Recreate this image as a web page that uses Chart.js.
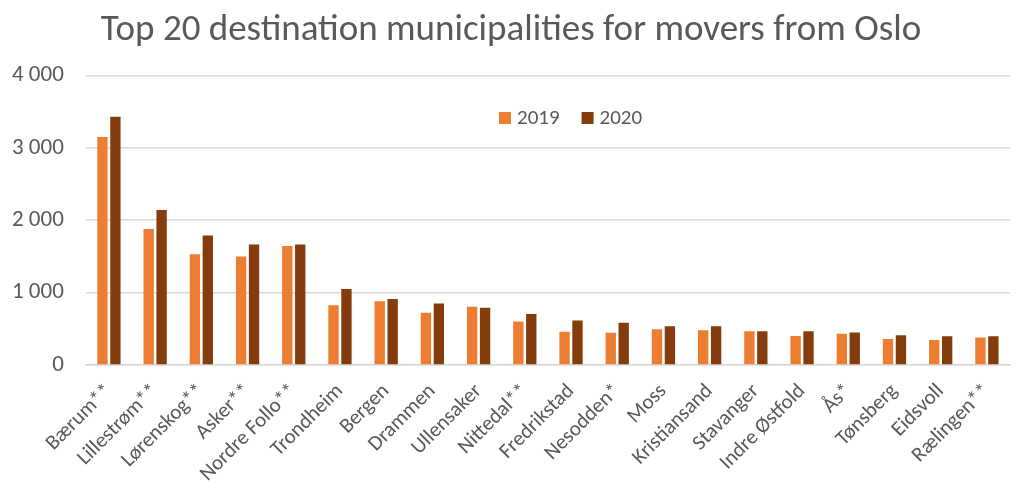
<!DOCTYPE html>
<html>
<head>
<meta charset="utf-8">
<script src="https://cdn.jsdelivr.net/npm/chart.js@4/dist/chart.umd.min.js"></script>
<style>
  html, body { margin: 0; padding: 0; background: #fff; }
  #wrap { width: 1018px; height: 498px; position: relative; }
</style>
</head>
<body>
<div id="wrap"><canvas id="chartCanvas"></canvas></div>
<script>
// data
const municipalities = ['Bærum**', 'Lillestrøm**', 'Lørenskog**', 'Asker**', 'Nordre Follo**',
  'Trondheim', 'Bergen', 'Drammen', 'Ullensaker', 'Nittedal**', 'Fredrikstad', 'Nesodden*',
  'Moss', 'Kristiansand', 'Stavanger', 'Indre Østfold', 'Ås*', 'Tønsberg', 'Eidsvoll', 'Rælingen**'];
const movers2019 = [3150, 1880, 1530, 1500, 1645, 825, 880, 720, 805, 600, 460, 445, 495, 480, 466, 400, 430, 360, 345, 380];
const movers2020 = [3430, 2140, 1790, 1665, 1665, 1050, 910, 850, 790, 705, 615, 585, 535, 535, 466, 466, 448, 410, 398, 398];
const yTicks = [0, 1000, 2000, 3000, 4000];

const textColor = '#595959';
const gridColor = '#D9D9D9';
const fontFamily = 'Carlito, Lato, sans-serif';

// legend drawn inside the plot area, like the original
const innerLegend = {
    id: 'innerLegend',
    afterDraw(chart) {
        const ctx = chart.ctx;
        let x = 499;
        const y = 118;
        ctx.save();
        ctx.font = '21px ' + fontFamily;
        ctx.textBaseline = 'middle';
        chart.data.datasets.forEach(ds => {
            ctx.fillStyle = ds.backgroundColor;
            ctx.fillRect(x, y - 6, 12, 12);
            ctx.fillStyle = textColor;
            ctx.fillText(ds.label, x + 18, y + 1);
            x += 18 + ctx.measureText(ds.label).width + 22;
        });
        ctx.restore();
    }
};

const ctx = document.getElementById('chartCanvas').getContext('2d');
new Chart(ctx, {
    type: 'bar',
    data: {
        labels: municipalities,
        datasets: [
            { label: '2019', data: movers2019, backgroundColor: '#ED7D31' },
            { label: '2020', data: movers2020, backgroundColor: '#843C0C' }
        ]
    },
    options: {
        responsive: true,
        maintainAspectRatio: false,
        animation: false,
        layout: { autoPadding: false, padding: { left: 12, right: 8, top: 0, bottom: 0 } },
        datasets: { bar: { categoryPercentage: 0.56, barPercentage: 0.8 } },
        plugins: {
            legend: { display: false },
            tooltip: { enabled: false },
            title: {
                display: true,
                text: 'Top 20 destination municipalities for movers from Oslo',
                color: textColor,
                font: { family: fontFamily, size: 37, weight: 'normal' },
                padding: { top: 9, bottom: 22 }
            }
        },
        scales: {
            x: {
                grid: { display: false, drawTicks: false },
                border: { display: true, color: gridColor, width: 1.5 },
                afterFit: axis => {
                    axis.height = 133;
                    axis.paddingLeft = 0;
                    axis.paddingRight = 0;
                },
                ticks: {
                    color: textColor,
                    font: { family: fontFamily, size: 21 },
                    minRotation: 45,
                    maxRotation: 45,
                    autoSkip: false,
                    padding: 14
                }
            },
            y: {
                min: 0,
                max: 4000,
                afterBuildTicks: axis => { axis.ticks = yTicks.map(v => ({ value: v })); },
                // chart.js reserves the tick padding twice, drop the outer one
                afterFit: axis => { axis.width -= 22; },
                grid: { color: gridColor, lineWidth: 1.5, drawTicks: false },
                border: { display: false },
                ticks: {
                    color: textColor,
                    font: { family: fontFamily, size: 23 },
                    padding: 22,
                    callback: v => v.toLocaleString('en-US').replace(/,/g, ' ')
                }
            }
        }
    },
    plugins: [innerLegend]
});
</script>
</body>
</html>
